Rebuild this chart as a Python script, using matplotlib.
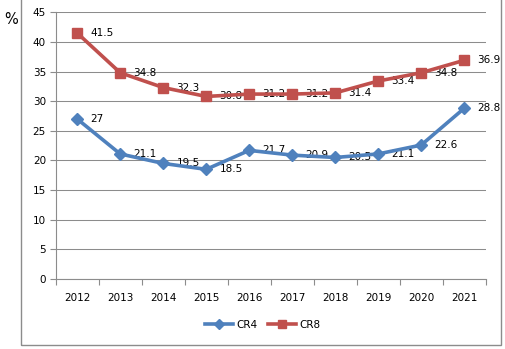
import matplotlib
matplotlib.use('Agg')
import matplotlib.pyplot as plt
from matplotlib.patches import Rectangle

# CR4 / CR8 集中度 (%)
years = ['2012', '2013', '2014', '2015', '2016', '2017', '2018', '2019', '2020', '2021']
cr4 = [27, 21.1, 19.5, 18.5, 21.7, 20.9, 20.5, 21.1, 22.6, 28.8]
cr8 = [41.5, 34.8, 32.3, 30.8, 31.2, 31.2, 31.4, 33.4, 34.8, 36.9]

BLUE = '#4F81BD'
RED = '#C0504D'
GRID = '#8C8C8C'

plt.rcParams['font.family'] = ['DejaVu Sans']
fig = plt.figure(figsize=(5.05, 3.49), dpi=100)
ax = fig.add_axes([0.1103, 0.2006, 0.8515, 0.7642])

# 外框
fig.patches.append(Rectangle((21 / 505, 4 / 349), 480 / 505, 1.0, transform=fig.transFigure,
                             fill=False, edgecolor='#8C8C8C', linewidth=1.0))

x = list(range(len(years)))
ax.plot(x, cr4, color=BLUE, lw=2.6, marker='D', ms=6, label='CR4', zorder=3)
ax.plot(x, cr8, color=RED, lw=2.6, marker='s', ms=7, label='CR8', zorder=3)

for xi, v in zip(x, cr4):
    ax.annotate(f'{v:g}', (xi, v), xytext=(9.5, 0), textcoords='offset points',
                ha='left', va='center', fontsize=7.5, color='black', zorder=2)
for xi, v in zip(x, cr8):
    ax.annotate(f'{v:g}', (xi, v), xytext=(9.5, 0), textcoords='offset points',
                ha='left', va='center', fontsize=7.5, color='black', zorder=2)

ax.set_xlim(-0.5, 9.5)
ax.set_ylim(0, 45)
ax.set_yticks(range(0, 46, 5))
ax.set_xticks(x)
ax.set_xticklabels(years)
ax.set_xticks([i - 0.5 for i in range(len(years) + 1)], minor=True)
ax.tick_params(axis='x', which='major', length=0, pad=10, labelsize=7.5)
ax.tick_params(axis='x', which='minor', length=4, color=GRID, width=0.8)
ax.tick_params(axis='y', length=4, color=GRID, width=0.8, pad=3, labelsize=7.5)

ax.grid(axis='y', color=GRID, lw=0.75)
ax.set_axisbelow(True)
for s in ['top', 'right']:
    ax.spines[s].set_visible(False)
for s in ['left', 'bottom']:
    ax.spines[s].set_color(GRID)
    ax.spines[s].set_linewidth(0.8)

fig.text(4 / 505, 1 - 20 / 349, '%', fontsize=10.5, va='center', ha='left')

fig.legend(loc='center', bbox_to_anchor=(0.52, 0.069), ncol=2, frameon=False,
           fontsize=7.5, handlelength=2.7, columnspacing=1.0, handletextpad=0.3,
           markerscale=0.8)

fig.savefig('out.png', dpi=100)
